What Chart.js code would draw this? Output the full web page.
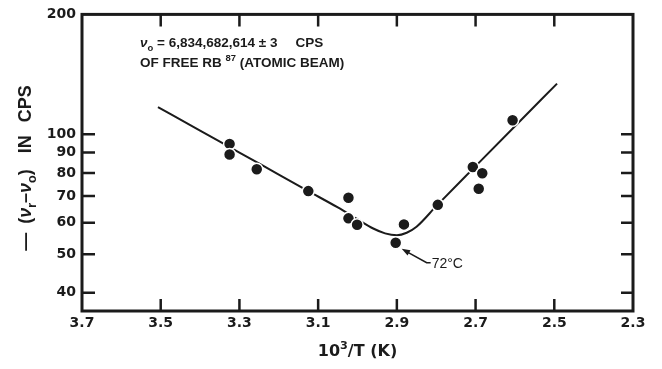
<!DOCTYPE html>
<html lang="en">
<head>
<meta charset="UTF-8">
<title>Rb87 frequency shift vs 1/T</title>
<script src="https://cdn.jsdelivr.net/npm/chart.js"></script>
<style>
  body { margin: 0; background: #fff; }
  #wrap { width: 662px; height: 369px; }
</style>
</head>
<body>
<div id="wrap"><canvas id="chart" width="662" height="369"></canvas></div>
<script>
// axis ticks
const xTicks = [3.7, 3.5, 3.3, 3.1, 2.9, 2.7, 2.5, 2.3];
const yTicks = [40, 50, 60, 70, 80, 90, 100, 200];

// measured points (10^3/T, -(nu_r - nu_0) in cps)
const pointX = [3.325, 3.325, 3.256, 3.125, 3.023, 3.023, 3.001, 2.903, 2.882, 2.796, 2.707, 2.683, 2.692, 2.606];
const pointY = [94.6, 89.0, 81.7, 72.0, 69.3, 61.5, 59.3, 53.4, 59.4, 66.5, 82.8, 79.8, 73.0, 108.5];

// hand-drawn fit curve
const curveX = [3.507, 3.40, 3.30, 3.20, 3.125, 3.05, 3.00, 2.96, 2.93, 2.90, 2.875, 2.85, 2.80, 2.70, 2.60, 2.493];
const curveY = [117, 102.1, 90.0, 79.2, 72.0, 65.5, 61.2, 58.0, 56.4, 55.8, 56.6, 58.6, 66.0, 83.2, 104.8, 134];

// minimum marker
const minX = 2.903, minY = 53.4, minLabel = '72°C';

const INK = '#1b1b1b';
const TICK_FONT = { family: 'DejaVu Sans', size: 14, weight: 'bold' };

// draws a row of text pieces (with sub/superscripts) starting at x
function drawRuns(ctx, runs, x, y, size, family) {
  runs.forEach(r => {
    if (r.gap) { x += r.gap; return; }
    const s = r.sub || r.sup ? size * 0.7 : size;
    const dy = r.sub ? size * 0.28 : r.sup ? -size * 0.45 : 0;
    ctx.font = `${r.italic ? 'italic ' : ''}bold ${s}px ${family}`;
    ctx.fillText(r.t, x, y + dy);
    x += ctx.measureText(r.t).width;
  });
}
function runsWidth(ctx, runs, size, family) {
  let w = 0;
  runs.forEach(r => {
    if (r.gap) { w += r.gap; return; }
    const s = r.sub || r.sup ? size * 0.7 : size;
    ctx.font = `${r.italic ? 'italic ' : ''}bold ${s}px ${family}`;
    w += ctx.measureText(r.t).width;
  });
  return w;
}

const frame = {
  id: 'frame',
  afterDraw(chart) {
    const { ctx, chartArea: a, scales: { x, y } } = chart;
    ctx.save();
    ctx.strokeStyle = INK;
    ctx.fillStyle = INK;
    ctx.lineWidth = 3;
    ctx.strokeRect(a.left, a.top, a.right - a.left, a.bottom - a.top);

    // inward ticks
    ctx.lineWidth = 2.5;
    ctx.beginPath();
    xTicks.forEach(v => {
      const px = x.getPixelForValue(v);
      if (px <= a.left + 2 || px >= a.right - 2) return;
      ctx.moveTo(px, a.bottom); ctx.lineTo(px, a.bottom - 12);
      ctx.moveTo(px, a.top); ctx.lineTo(px, a.top + 12);
    });
    yTicks.forEach(v => {
      const py = y.getPixelForValue(v);
      if (py <= a.top + 2) return;
      ctx.moveTo(a.left, py); ctx.lineTo(a.left + 13, py);
      ctx.moveTo(a.right, py); ctx.lineTo(a.right - 12, py);
    });
    ctx.stroke();

    // 72°C arrow
    const mx = x.getPixelForValue(minX), my = y.getPixelForValue(minY);
    const tipX = mx + 6, tipY = my + 6;
    const endX = mx + 31, endY = my + 20;
    ctx.lineWidth = 1.6;
    ctx.beginPath();
    ctx.moveTo(tipX + 4, tipY + 2.3);
    ctx.lineTo(endX, endY);
    ctx.lineTo(endX + 4, endY);
    ctx.stroke();
    const ang = Math.atan2(endY - tipY, endX - tipX);
    ctx.beginPath();
    ctx.moveTo(tipX, tipY);
    ctx.lineTo(tipX + 9 * Math.cos(ang - 0.35), tipY + 9 * Math.sin(ang - 0.35));
    ctx.lineTo(tipX + 9 * Math.cos(ang + 0.35), tipY + 9 * Math.sin(ang + 0.35));
    ctx.closePath();
    ctx.fill();
    ctx.font = '14px "Liberation Sans"';
    ctx.textBaseline = 'middle';
    ctx.fillText(minLabel, endX + 5, endY + 1);

    // header text
    ctx.textBaseline = 'alphabetic';
    drawRuns(ctx, [
      { t: 'ν', italic: true }, { t: 'o', sub: true },
      { t: ' = 6,834,682,614 ± 3' }, { gap: 18 }, { t: 'CPS' }
    ], 140, 47, 13.5, '"Liberation Sans"');
    drawRuns(ctx, [
      { t: 'OF FREE RB ' }, { t: '87', sup: true }, { t: ' (ATOMIC BEAM)' }
    ], 140, 67, 13.5, '"Liberation Sans"');

    // x axis title
    const xRuns = [{ t: '10' }, { t: '3', sup: true }, { t: '/T (K)' }];
    const xw = runsWidth(ctx, xRuns, 16, '"DejaVu Sans"');
    drawRuns(ctx, xRuns, (a.left + a.right) / 2 - xw / 2, 356, 16, '"DejaVu Sans"');

    // y axis title, rotated
    const yRuns = [
      { t: '—' }, { gap: 9 }, { t: '(' }, { t: 'ν', italic: true }, { t: 'r', sub: true },
      { t: '–' }, { t: 'ν', italic: true }, { t: 'o', sub: true }, { t: ')' },
      { gap: 16 }, { t: 'IN' }, { gap: 13 }, { t: 'CPS' }
    ];
    const yw = runsWidth(ctx, yRuns, 18, '"Liberation Sans"');
    ctx.translate(31, 168);
    ctx.rotate(-Math.PI / 2);
    drawRuns(ctx, yRuns, -yw / 2, 0, 18, '"Liberation Sans"');
    ctx.restore();
  }
};

new Chart(document.getElementById('chart'), {
  type: 'scatter',
  data: {
    datasets: [
      {
        label: 'measured',
        data: pointX.map((v, i) => ({ x: v, y: pointY[i] })),
        pointRadius: 6,
        pointHoverRadius: 6,
        backgroundColor: INK,
        borderColor: '#fff',
        borderWidth: 1.5
      },
      {
        label: 'fit',
        data: curveX.map((v, i) => ({ x: v, y: curveY[i] })),
        showLine: true,
        pointRadius: 0,
        borderColor: INK,
        borderWidth: 2,
        cubicInterpolationMode: 'monotone'
      }
    ]
  },
  options: {
    responsive: false,
    animation: false,
    devicePixelRatio: 1,
    layout: { padding: { left: 0, top: 13, right: 29, bottom: 0 } },
    plugins: { legend: { display: false }, tooltip: { enabled: false } },
    scales: {
      x: {
        type: 'linear',
        reverse: true,
        min: 2.3,
        max: 3.7,
        afterBuildTicks: s => { s.ticks = xTicks.map(v => ({ value: v })); },
        afterFit: s => { s.height = 58; },
        ticks: { color: INK, font: TICK_FONT, padding: 4, maxRotation: 0, callback: v => v.toFixed(1) },
        grid: { display: false, drawTicks: false },
        border: { display: false }
      },
      y: {
        type: 'logarithmic',
        min: 36,
        max: 200,
        afterBuildTicks: s => { s.ticks = yTicks.map(v => ({ value: v })); },
        afterFit: s => { s.width = 82; },
        ticks: { color: INK, font: TICK_FONT, padding: 6, callback: v => String(v) },
        grid: { display: false, drawTicks: false },
        border: { display: false }
      }
    }
  },
  plugins: [frame]
});
</script>
</body>
</html>
